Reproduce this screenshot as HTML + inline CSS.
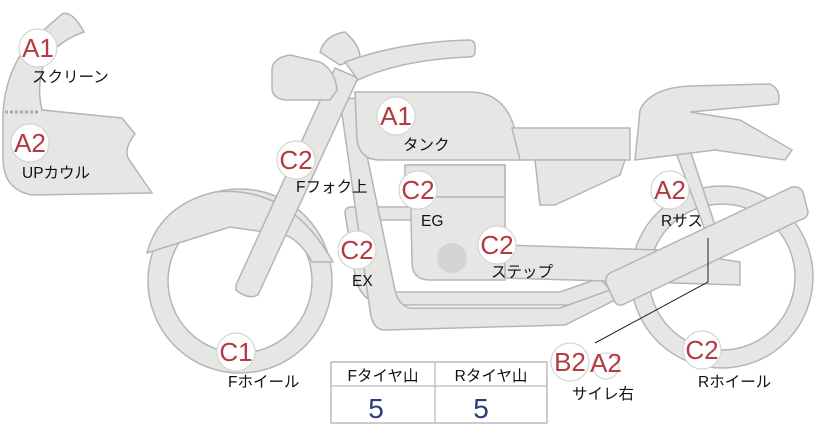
<!DOCTYPE html>
<html><head><meta charset="utf-8"><style>
body{margin:0;background:#fff}
svg{display:block}
text{font-family:"Liberation Sans","Noto Sans CJK JP",sans-serif}
.s{fill:#e6e6e4;stroke:#b5b5b5;stroke-width:1.5}
.b{fill:#fff;stroke:#d5d5d5;stroke-width:1.2}
.bt{fill:#b23a40;font-size:26px;text-anchor:middle}
.l{font-size:15.5px;fill:#111}
</style></head><body>
<svg width="822" height="425" viewBox="0 0 822 425">
<path class="s" d="M62,14 Q72,10 84,32 Q60,40 45,60 Q36,85 42,110 L122,118 L135,134 Q124,148 128,158 L152,193 L32,195 Q4,190 3,160 L3,112 Q6,70 30,42 Z"/>
<line x1="5" y1="112" x2="40" y2="112" stroke="#aaa" stroke-width="3" stroke-dasharray="3,2"/>
<circle cx="240" cy="281" r="92" class="s"/>
<circle cx="240" cy="281" r="72" fill="#fff" stroke="#b5b5b5" stroke-width="1.5"/>
<path class="s" d="M147,253 Q160,205 215,192 Q290,185 333,262 L312,262 Q300,240 285,235 L230,227 L172,245 Z"/>
<circle cx="722" cy="277" r="91" class="s"/>
<circle cx="722" cy="277" r="73" fill="#fff" stroke="#b5b5b5" stroke-width="1.5"/>
<path class="s" d="M345,213 Q345,207 352,207 L420,207 L420,220 L362,220 Q356,225 360,240 L368,275 Q372,290 390,292 L560,292 L600,278 L610,290 L570,305 L390,305 Q360,305 355,275 Z"/>
<path class="s" d="M340,100 L355,98 L395,290 Q398,305 410,308 L560,308 L610,290 L615,300 L565,325 L385,330 Q372,330 370,310 Z"/>
<path class="s" d="M410,165 L505,165 L505,280 L430,280 Q412,280 412,262 Z"/>
<rect class="s" x="405" y="165" width="100" height="32"/>
<circle cx="452" cy="258" r="15" fill="#d4d4d4"/>
<path class="s" d="M355,92 L470,92 Q505,92 515,130 L520,160 L380,160 Q360,160 357,140 Z"/>
<path class="s" d="M505,245 L660,250 L740,262 L740,285 L505,278 Z"/>
<path class="s" d="M512,128 L630,128 L630,160 L520,160 Z"/>
<path class="s" d="M535,160 L625,160 L620,175 L555,205 L540,205 Z"/>
<path class="s" d="M675,150 L690,150 L715,225 L705,230 Z"/>
<path class="s" d="M640,110 Q650,88 690,86 L770,84 Q782,90 778,104 L690,112 L740,120 L792,150 L785,160 L715,150 L635,160 Z"/>
<path class="s" d="M610,273 L792,187 Q800,186 803,192 L808,212 Q808,218 800,220 L622,305 Q616,306 614,300 L606,283 Q605,276 610,273 Z"/>
<path class="s" d="M236,285 L335,68 L358,78 L258,295 Q248,300 236,290 Z"/>
<path class="s" d="M272,70 Q272,58 290,55 L320,62 Q335,70 337,90 L330,100 L285,100 Q272,98 272,88 Z"/>
<path class="s" d="M320,52 Q325,35 345,32 Q360,45 360,58 L340,65 Z"/>
<path class="s" d="M345,62 Q400,42 468,40 Q475,40 475,46 L475,52 Q475,57 468,57 Q400,60 358,80 Z"/>
<polyline points="595,343 708,282 708,238" fill="none" stroke="#222" stroke-width="1"/>
<rect x="331" y="362" width="216" height="61" fill="#fff" stroke="#aaa" stroke-width="1.2"/>
<line x1="331" y1="386" x2="547" y2="386" stroke="#aaa"/>
<line x1="435" y1="362" x2="435" y2="423" stroke="#aaa"/>
<text x="383" y="381" class="l" text-anchor="middle">Fタイヤ山</text>
<text x="491" y="381" class="l" text-anchor="middle">Rタイヤ山</text>
<text x="376" y="418" font-size="28" fill="#2b3d7a" text-anchor="middle">5</text>
<text x="481" y="418" font-size="28" fill="#2b3d7a" text-anchor="middle">5</text>
<g>
<circle class="b" cx="38" cy="48" r="19"/><text class="bt" x="38" y="57">A1</text>
<circle class="b" cx="30" cy="143" r="19"/><text class="bt" x="30" y="152">A2</text>
<circle class="b" cx="396" cy="116" r="19"/><text class="bt" x="396" y="125">A1</text>
<circle class="b" cx="296" cy="160" r="19"/><text class="bt" x="296" y="169">C2</text>
<circle class="b" cx="418" cy="190" r="19"/><text class="bt" x="418" y="199">C2</text>
<circle class="b" cx="357" cy="250" r="19"/><text class="bt" x="357" y="259">C2</text>
<circle class="b" cx="497" cy="245" r="19"/><text class="bt" x="497" y="254">C2</text>
<circle class="b" cx="670" cy="190" r="19"/><text class="bt" x="670" y="199">A2</text>
<circle class="b" cx="236" cy="352" r="19"/><text class="bt" x="236" y="361">C1</text>
<circle class="b" cx="570" cy="362" r="19"/><text class="bt" x="570" y="371">B2</text>
<circle class="b" cx="606" cy="366" r="13"/><text class="bt" x="606" y="372" font-size="17">A2</text>
<circle class="b" cx="702" cy="350" r="19"/><text class="bt" x="702" y="359">C2</text>
</g>
<text class="l" x="32" y="82">スクリーン</text>
<text class="l" x="22" y="178">UPカウル</text>
<text class="l" x="403" y="150">タンク</text>
<text class="l" x="296" y="192">Fフォク上</text>
<text class="l" x="421" y="226">EG</text>
<text class="l" x="352" y="286">EX</text>
<text class="l" x="491" y="277">ステップ</text>
<text class="l" x="661" y="226">Rサス</text>
<text class="l" x="228" y="387">Fホイール</text>
<text class="l" x="572" y="399">サイレ右</text>
<text class="l" x="698" y="387">Rホイール</text>
</svg>
</body></html>
